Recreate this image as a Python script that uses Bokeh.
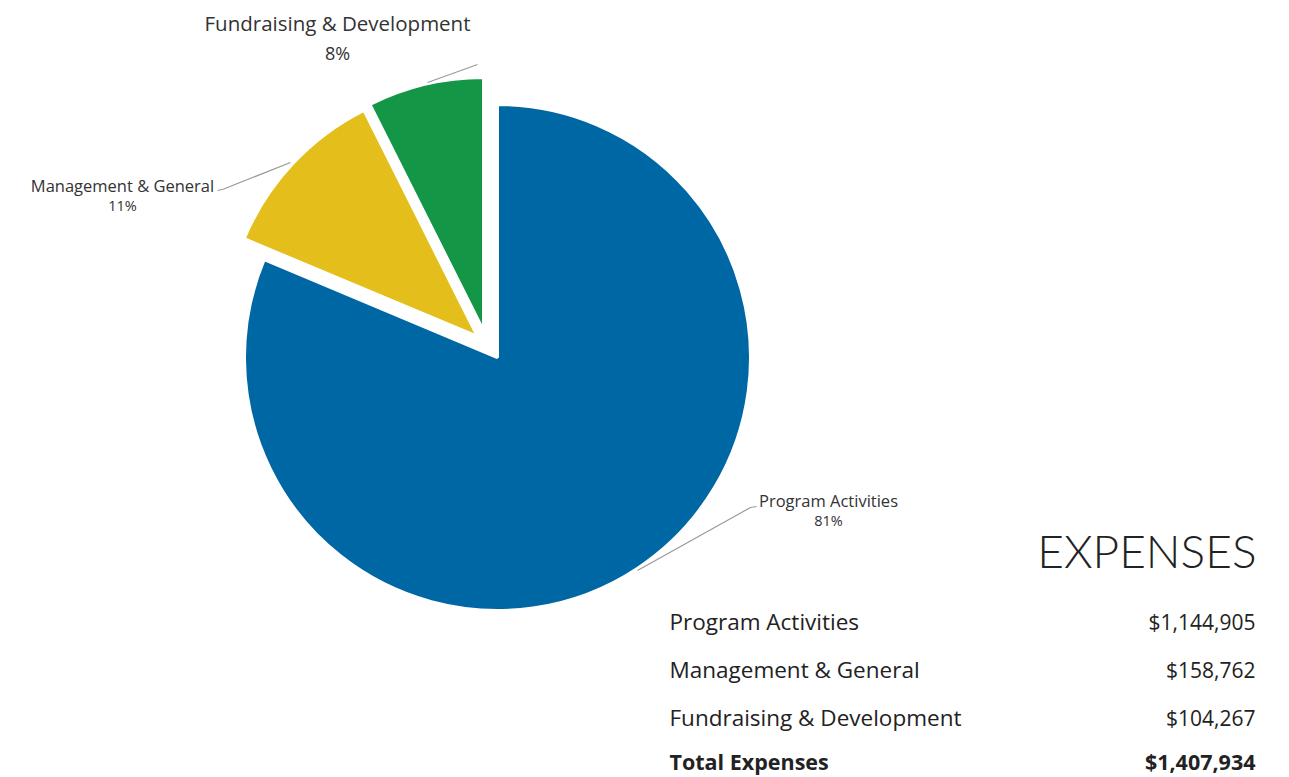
import numpy as np
from bokeh.plotting import figure
from bokeh.models import Range1d, ColumnDataSource
from bokeh.core.properties import value
from bokeh.embed import file_html
from bokeh.resources import INLINE

# ---------------- data ----------------
categories = ["Program Activities", "Management & General", "Fundraising & Development"]
amounts = [1144905, 158762, 104267]
pct_labels = ["81%", "11%", "8%"]
total_name = "Total Expenses"
total_amount = 1407934
title_text = "EXPENSES"

# ---------------- style ----------------
colors = ["#0067A5", "#E4BF1B", "#149647"]
explode_px = [(0, 0), (-20, 21), (-14, 27)]   # screen offsets of exploded slices (dx, dy up)
FONT = "Open Sans"
TXT = "#333333"

W, H = 1289, 777

p = figure(width=W, height=H, x_range=Range1d(0, W), y_range=Range1d(-H, 0),
           output_backend="svg", toolbar_location=None, min_border=0,
           x_axis_location=None, y_axis_location=None)
p.grid.visible = False
p.outline_line_color = None
p.background_fill_color = "white"
p.border_fill_color = "white"

# ---------------- pie ----------------
cx, cy, R = 497, -357, 253
fr = np.array(amounts, dtype=float) / total_amount
order = [2, 1, 0]  # anticlockwise from 12 o'clock: green, yellow, blue
start = np.pi / 2
wedges = {}
for i in order:
    a0 = start
    a1 = start + 2 * np.pi * fr[i]
    wedges[i] = dict(x=cx + explode_px[i][0], y=cy + explode_px[i][1], s=a0, e=a1, c=colors[i])
    start = a1
src = ColumnDataSource(dict(
    x=[wedges[i]["x"] for i in range(3)], y=[wedges[i]["y"] for i in range(3)],
    s=[wedges[i]["s"] for i in range(3)], e=[wedges[i]["e"] for i in range(3)],
    c=[wedges[i]["c"] for i in range(3)]))
p.wedge(x="x", y="y", radius=R, start_angle="s", end_angle="e", direction="anticlock",
        fill_color="c", line_color="white", line_width=3, source=src)

# ---------------- leader lines & labels ----------------
leaders = {
    0: [(637, 570), (750, 507), (756, 506)],
    1: [(217, 190), (222, 189), (290, 162)],
    2: [(427, 82), (477, 64)],
}
label_pos = {0: (828, 500, 16.5, 14.5), 1: (122, 185, 16.5, 14.5), 2: (337, 22, 20.5, 18)}
pct_dy = {0: 20, 1: 20, 2: 30}
for i in [0, 1, 2]:
    pts = leaders[i]
    p.line([q[0] for q in pts], [-q[1] for q in pts], line_color="#9a9a9a", line_width=1.2)
    lx, ly, s1, s2 = label_pos[i]
    p.text(x=[lx], y=[-ly], text=[categories[i]], text_align="center", text_baseline="middle",
           text_font=value(FONT), text_font_size=f"{s1}px", text_color=TXT)
    p.text(x=[lx], y=[-(ly + pct_dy[i])], text=[pct_labels[i]], text_align="center",
           text_baseline="middle", text_font=value(FONT), text_font_size=f"{s2}px", text_color=TXT)

# ---------------- table ----------------
p.text(x=[1256], y=[-550], text=[title_text], text_align="right", text_baseline="middle",
       text_font=value("'Lato Light', Lato"), text_font_size="46px", text_color="#222222")

row_y = [621, 669, 717]
for i in range(3):
    p.text(x=[669], y=[-row_y[i]], text=[categories[i]], text_align="left", text_baseline="middle",
           text_font=value(FONT), text_font_size="22.5px", text_color="#222222")
    p.text(x=[1255], y=[-row_y[i]], text=[f"${amounts[i]:,}"], text_align="right",
           text_baseline="middle", text_font=value(FONT), text_font_size="21px", text_color="#222222")
p.text(x=[669], y=[-761], text=[total_name], text_align="left", text_baseline="middle",
       text_font=value(FONT), text_font_size="21.5px", text_font_style="bold", text_color="#222222")
p.text(x=[1255], y=[-761], text=[f"${total_amount:,}"], text_align="right", text_baseline="middle",
       text_font=value(FONT), text_font_size="21.5px", text_font_style="bold", text_color="#222222")

open("out.html", "w").write(file_html(p, INLINE))
